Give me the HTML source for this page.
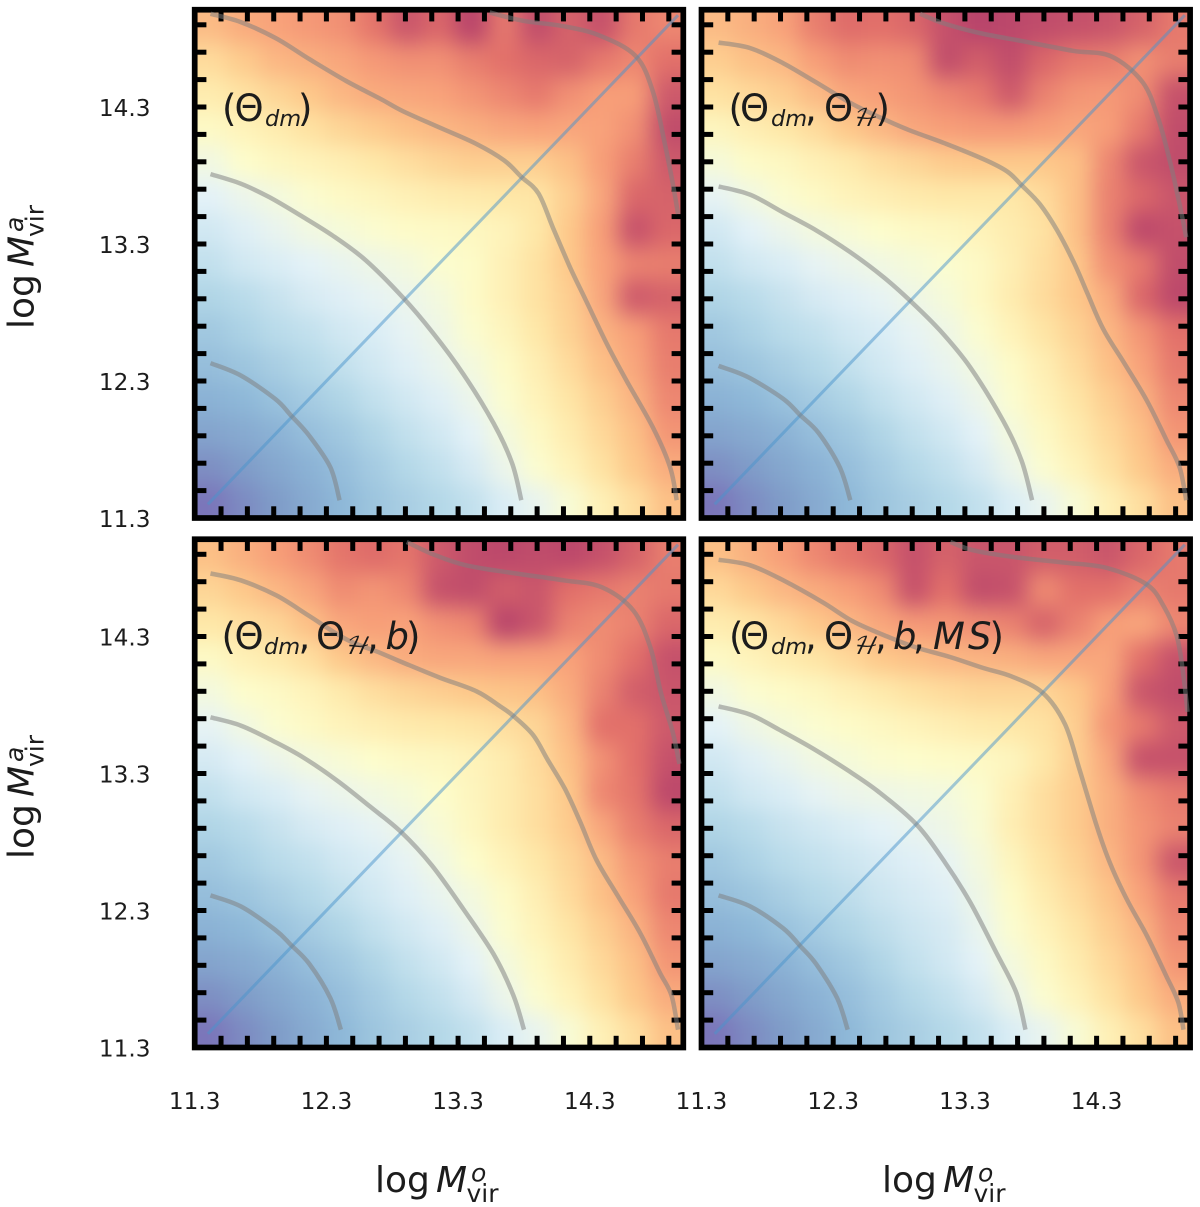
<!DOCTYPE html>
<html lang="en">
<head>
<meta charset="utf-8">
<title>Halo mass comparison panels</title>
<style>
html,body{margin:0;padding:0;background:#fff;width:1200px;height:1207px;overflow:hidden}
svg{display:block}
text{font-family:"DejaVu Sans","Liberation Sans",sans-serif;fill:#1c1c1c}
.tick{font-size:23.2px}
.ttl{font-size:36px}
.sm{font-size:25px}
.ann{font-size:37px}
.sub{font-size:22.5px}
.cal{font-size:24px;font-family:"DejaVu Math TeX Gyre","DejaVu Sans",sans-serif}
.it{font-style:italic}
</style>
</head>
<body>
<svg id="chart" xmlns="http://www.w3.org/2000/svg" width="1200" height="1207" viewBox="0 0 1200 1207">
  <defs>
    <filter id="soft" filterUnits="userSpaceOnUse" x="0" y="0" width="1200" height="1207" color-interpolation-filters="sRGB">
      <feGaussianBlur stdDeviation="11"/>
    </filter>
  </defs>
  <g id="panels"></g>

  <g>
    <text class="ttl" x="375" y="1192">log</text><text class="ttl it" x="436" y="1192">M</text><text class="sm it" x="471" y="1181.5">o</text><text class="sm" x="466.5" y="1202">vir</text>
  </g>
  <g>
    <text class="ttl" x="882" y="1192">log</text><text class="ttl it" x="943" y="1192">M</text><text class="sm it" x="978" y="1181.5">o</text><text class="sm" x="973.5" y="1202">vir</text>
  </g>
  <g transform="translate(33.5,329) rotate(-90)">
    <text class="ttl" x="0" y="0">log</text><text class="ttl it" x="62" y="0">M</text><text class="sm it" x="97" y="-10.5">a</text><text class="sm" x="92" y="10">vir</text>
  </g>
  <g transform="translate(33.5,859) rotate(-90)">
    <text class="ttl" x="0" y="0">log</text><text class="ttl it" x="62" y="0">M</text><text class="sm it" x="97" y="-10.5">a</text><text class="sm" x="92" y="10">vir</text>
  </g>

  <g>
    <text class="ann" x="222" y="121">(</text><text class="ann" x="234.5" y="121">Θ</text><text class="sub it" x="265" y="126">dm</text><text class="ann" x="298" y="121">)</text>
  </g>
  <g>
    <text class="ann" x="728.5" y="121">(</text><text class="ann" x="740" y="121">Θ</text><text class="sub it" x="771" y="126">dm</text><text class="ann" x="805" y="121">,</text><text class="ann" x="824" y="121">Θ</text><text class="cal it" x="852" y="126">ℋ</text><text class="ann" x="875.5" y="121">)</text>
  </g>
  <g>
    <text class="ann" x="221.5" y="649">(</text><text class="ann" x="234.5" y="649">Θ</text><text class="sub it" x="264" y="654">dm</text><text class="ann" x="298.5" y="649">,</text><text class="ann" x="316" y="649">Θ</text><text class="cal it" x="344" y="654">ℋ</text><text class="ann" x="367" y="649">,</text><text class="ann it" x="385.5" y="649">b</text><text class="ann" x="406" y="649">)</text>
  </g>
  <g>
    <text class="ann" x="729" y="649">(</text><text class="ann" x="740" y="649">Θ</text><text class="sub it" x="771" y="654">dm</text><text class="ann" x="805" y="649">,</text><text class="ann" x="824" y="649">Θ</text><text class="cal it" x="852" y="654">ℋ</text><text class="ann" x="875" y="649">,</text><text class="ann it" x="893" y="649">b</text><text class="ann" x="913" y="649">,</text><text class="ann it" x="933" y="649">M</text><text class="ann it" x="968" y="649">S</text><text class="ann" x="989.5" y="649">)</text>
  </g>
</svg>
<script>
// ---- shared axis data ----
const tickLabels = ['11.3', '12.3', '13.3', '14.3'];
const minorTicks = [11.5, 11.7, 11.9, 12.1, 12.3, 12.5, 12.7, 12.9, 13.1, 13.3, 13.5, 13.7, 13.9, 14.1, 14.3, 14.5, 14.7, 14.9];
const diagonalValues = [11.4, 14.97];

// ---- heatmap values: rows run top to bottom, columns left to right ----
const heatDm = [
[.73,.77,.79,.81,.83,.89,.96,.92,1.0,.88,.98,.93,.97,.88,.85],
[.64,.69,.74,.76,.78,.81,.83,.83,.87,.90,.92,.93,.88,.85,.90],
[.58,.62,.66,.70,.74,.77,.78,.79,.82,.85,.88,.83,.80,.80,.95],
[.52,.55,.58,.62,.66,.69,.72,.74,.76,.78,.79,.78,.79,.83,.98],
[.45,.50,.53,.55,.57,.60,.63,.66,.68,.68,.68,.72,.80,.87,.95],
[.40,.43,.46,.49,.52,.54,.56,.58,.59,.60,.61,.68,.78,.92,.93],
[.36,.39,.42,.45,.47,.49,.51,.52,.53,.55,.60,.70,.80,.97,.92],
[.33,.36,.38,.40,.42,.44,.46,.49,.51,.56,.62,.70,.79,.86,.87],
[.29,.31,.34,.37,.39,.41,.43,.46,.51,.56,.62,.68,.78,.95,.93],
[.25,.28,.31,.33,.36,.38,.41,.44,.49,.54,.60,.67,.75,.80,.88],
[.22,.24,.27,.30,.33,.36,.39,.42,.46,.51,.57,.64,.72,.78,.87],
[.18,.20,.23,.26,.29,.33,.36,.39,.43,.49,.55,.61,.68,.75,.85],
[.13,.15,.18,.22,.25,.29,.33,.36,.40,.46,.52,.58,.65,.72,.82],
[.07,.10,.14,.18,.22,.26,.30,.33,.37,.43,.49,.55,.62,.70,.77],
[.01,.06,.10,.15,.20,.24,.27,.30,.33,.38,.42,.48,.56,.63,.72]
];
const heatDmH = [
[.73,.76,.79,.87,.91,.90,.92,.97,1.0,.99,.98,.97,.96,.93,.88],
[.68,.72,.74,.80,.84,.83,.84,.98,.94,.98,.92,.88,.87,.83,.87],
[.62,.65,.68,.73,.78,.80,.82,.85,.88,.95,.86,.82,.81,.84,.97],
[.54,.57,.60,.64,.70,.74,.78,.80,.81,.81,.80,.78,.80,.88,.98],
[.47,.51,.53,.56,.59,.63,.66,.69,.70,.70,.70,.72,.85,.96,.98],
[.41,.45,.49,.52,.55,.57,.59,.60,.60,.60,.64,.72,.86,.92,.96],
[.36,.40,.43,.46,.48,.50,.52,.53,.55,.58,.62,.72,.86,.99,.97],
[.33,.36,.38,.41,.43,.45,.47,.49,.52,.57,.63,.70,.83,.88,.98],
[.29,.31,.34,.37,.39,.41,.44,.47,.52,.58,.64,.70,.77,.92,.99],
[.25,.28,.31,.33,.36,.38,.41,.44,.49,.55,.61,.67,.74,.82,.90],
[.22,.24,.27,.30,.33,.36,.39,.42,.46,.51,.57,.64,.72,.79,.88],
[.18,.20,.23,.26,.29,.33,.36,.39,.43,.49,.55,.61,.68,.75,.85],
[.13,.15,.18,.22,.25,.29,.33,.36,.40,.46,.52,.58,.65,.72,.82],
[.07,.10,.14,.18,.22,.26,.30,.33,.37,.43,.49,.55,.62,.70,.77],
[.01,.06,.10,.15,.20,.24,.27,.30,.33,.38,.42,.48,.56,.63,.72]
];
const heatDmHB = [
[.72,.76,.80,.84,.89,.91,.89,.95,.98,.99,.98,.99,.97,.93,.87],
[.66,.70,.74,.78,.84,.82,.85,.97,.98,.94,.96,.90,.88,.86,.88],
[.60,.63,.66,.72,.78,.80,.79,.83,.85,1.0,.96,.86,.84,.86,.92],
[.52,.56,.59,.63,.70,.74,.77,.78,.78,.79,.79,.79,.84,.90,.97],
[.46,.50,.52,.55,.59,.63,.66,.68,.70,.71,.72,.77,.86,.94,.96],
[.41,.45,.49,.52,.55,.57,.59,.60,.61,.63,.66,.74,.90,.90,.95],
[.37,.40,.43,.46,.48,.50,.52,.53,.55,.58,.64,.72,.83,.90,.97],
[.33,.36,.38,.41,.43,.45,.47,.50,.54,.58,.63,.70,.85,.89,.99],
[.29,.31,.34,.37,.39,.41,.44,.48,.53,.58,.63,.69,.78,.87,.92],
[.25,.28,.31,.33,.36,.38,.41,.45,.50,.55,.60,.66,.73,.82,.87],
[.22,.24,.27,.30,.33,.36,.39,.42,.46,.51,.57,.64,.72,.79,.88],
[.18,.20,.23,.26,.29,.33,.36,.39,.43,.49,.55,.61,.68,.75,.85],
[.13,.15,.18,.22,.25,.29,.33,.36,.40,.46,.52,.58,.65,.72,.82],
[.07,.10,.14,.18,.22,.26,.30,.33,.37,.43,.49,.55,.62,.70,.77],
[.01,.06,.10,.15,.20,.24,.27,.30,.33,.38,.42,.48,.56,.63,.72]
];
const heatDmHBMs = [
[.72,.76,.80,.85,.89,.92,.97,.93,.96,.96,.94,.94,.96,.92,.88],
[.65,.70,.74,.77,.80,.84,.97,.90,.98,.97,.84,.90,.90,.86,.88],
[.58,.61,.65,.70,.74,.78,.81,.82,.84,.86,.93,.86,.80,.78,.85],
[.52,.55,.58,.61,.65,.70,.72,.74,.75,.76,.78,.78,.78,.90,.97],
[.45,.49,.51,.53,.56,.59,.62,.64,.66,.66,.66,.70,.79,.96,.98],
[.40,.44,.47,.49,.51,.53,.55,.57,.59,.60,.62,.68,.82,.88,.95],
[.36,.39,.42,.45,.47,.49,.50,.51,.52,.54,.60,.68,.78,.97,.97],
[.33,.36,.38,.41,.43,.44,.45,.46,.49,.56,.63,.69,.76,.84,.88],
[.29,.31,.34,.36,.38,.40,.42,.44,.48,.57,.63,.69,.76,.82,.86],
[.25,.28,.31,.33,.35,.37,.39,.41,.46,.54,.61,.67,.74,.82,.96],
[.22,.24,.27,.30,.32,.35,.37,.39,.44,.51,.58,.64,.71,.79,.88],
[.18,.20,.23,.26,.29,.32,.35,.37,.42,.49,.55,.61,.68,.75,.85],
[.13,.15,.18,.22,.25,.29,.33,.36,.40,.46,.52,.58,.65,.72,.82],
[.07,.10,.14,.18,.22,.26,.30,.33,.37,.43,.49,.55,.62,.70,.77],
[.01,.06,.10,.15,.20,.24,.27,.30,.33,.38,.42,.48,.56,.63,.72]
];

// ---- contour values, panel 1 ----
const p1AX = [11.42,11.65,11.91,12.03,12.17,12.33,12.40];
const p1AY = [12.43,12.34,12.17,12.05,11.90,11.67,11.43];
const p1BX = [11.42,11.65,11.87,12.10,12.35,12.60,12.88,13.11,13.34,13.57,13.71,13.78];
const p1BY = [13.81,13.74,13.64,13.51,13.36,13.18,12.91,12.65,12.35,11.99,11.70,11.43];
const p1CX = [11.42,11.65,11.92,12.17,12.45,12.71,12.88,13.16,13.44,13.65,13.78,13.91,14.02,14.15,14.27,14.43,14.58,14.78,14.91,14.96];
const p1CY = [14.98,14.92,14.80,14.65,14.49,14.36,14.27,14.15,14.03,13.91,13.79,13.67,13.42,13.13,12.89,12.57,12.30,11.96,11.67,11.43];
const p1DX = [13.54,13.79,14.10,14.38,14.65,14.78,14.87,14.93,14.97];
const p1DY = [14.99,14.93,14.89,14.82,14.67,14.41,14.03,13.74,13.52];
// ---- contour values, panel 2 ----
const p2AX = [11.43,11.65,11.92,12.05,12.19,12.35,12.43];
const p2AY = [12.41,12.33,12.17,12.05,11.92,11.67,11.43];
const p2BX = [11.43,11.67,11.92,12.17,12.43,12.68,12.88,13.11,13.34,13.59,13.73,13.81];
const p2BY = [13.72,13.66,13.53,13.40,13.24,13.06,12.89,12.67,12.40,12.01,11.72,11.43];
const p2CX = [11.43,11.67,11.92,12.17,12.45,12.71,12.88,13.16,13.44,13.62,13.73,13.87,14.00,14.13,14.23,14.35,14.51,14.68,14.83,14.93,14.98];
const p2CY = [14.77,14.73,14.62,14.48,14.32,14.20,14.13,14.03,13.92,13.83,13.73,13.59,13.40,13.16,12.94,12.68,12.43,12.16,11.87,11.67,11.43];
const p2DX = [12.96,13.14,13.41,13.74,14.12,14.41,14.65,14.77,14.86,14.93,14.98];
const p2DY = [14.98,14.91,14.84,14.78,14.71,14.67,14.48,14.21,13.89,13.59,13.35];
// ---- contour values, panel 3 ----
const p3AX = [11.42,11.65,11.91,12.03,12.17,12.33,12.41];
const p3AY = [12.41,12.33,12.16,12.05,11.91,11.66,11.43];
const p3BX = [11.42,11.65,11.89,12.12,12.38,12.63,12.87,13.10,13.34,13.57,13.72,13.80];
const p3BY = [13.71,13.65,13.54,13.42,13.25,13.06,12.87,12.63,12.31,11.98,11.68,11.43];
const p3CX = [11.42,11.65,11.92,12.17,12.45,12.71,12.88,13.16,13.44,13.62,13.72,13.87,13.98,14.11,14.23,14.35,14.51,14.68,14.83,14.92,14.97];
const p3CY = [14.76,14.71,14.60,14.45,14.28,14.18,14.11,14.00,13.90,13.79,13.72,13.58,13.40,13.19,12.94,12.67,12.41,12.14,11.85,11.68,11.43];
const p3DX = [12.91,13.11,13.36,13.74,14.10,14.39,14.63,14.76,14.84,14.93,14.98];
const p3DY = [14.99,14.90,14.82,14.76,14.71,14.66,14.49,14.22,13.89,13.60,13.37];
// ---- contour values, panel 4 ----
const p4AX = [11.43,11.67,11.92,12.05,12.17,12.33,12.41];
const p4AY = [12.41,12.33,12.17,12.04,11.91,11.66,11.43];
const p4BX = [11.43,11.67,11.89,12.15,12.40,12.64,12.93,13.15,13.34,13.54,13.69,13.76];
const p4BY = [13.79,13.73,13.62,13.48,13.33,13.17,12.93,12.65,12.36,11.99,11.70,11.43];
const p4CX = [11.43,11.67,11.92,12.22,12.45,12.71,12.93,13.19,13.44,13.65,13.89,14.06,14.17,14.30,14.40,14.53,14.68,14.83,14.92,14.96];
const p4CY = [14.86,14.82,14.71,14.55,14.41,14.30,14.22,14.15,14.07,14.01,13.89,13.66,13.33,12.92,12.65,12.38,12.12,11.82,11.63,11.43];
const p4DX = [13.19,13.36,13.67,14.05,14.38,14.68,14.81,14.91,14.96,14.99];
const p4DY = [14.99,14.93,14.88,14.84,14.80,14.68,14.52,14.30,14.01,13.75];

// ---- colour ramp ----
const rampColors = ['#7a72b8','#7f9cc8','#8eb8d8','#b4d8e8','#e4f2f8','#fdfdcc','#fee8a8','#fdc88a','#f79e78','#e2706a','#b8446b'];
function hex(c){return [parseInt(c.slice(1,3),16),parseInt(c.slice(3,5),16),parseInt(c.slice(5,7),16)];}
function colorOf(v){
  const t=Math.max(0,Math.min(1,v))*(rampColors.length-1);
  const i=Math.min(rampColors.length-2,Math.floor(t)), f=t-i;
  const a=hex(rampColors[i]), b=hex(rampColors[i+1]);
  return 'rgb('+[0,1,2].map(k=>Math.round(a[k]+(b[k]-a[k])*f)).join(',')+')';
}

const NS='http://www.w3.org/2000/svg';
const root=document.getElementById('panels');
function mk(tag,parent,attrs){
  const el=document.createElementNS(NS,tag);
  for(const k in attrs) el.setAttribute(k,attrs[k]);
  parent.appendChild(el);
  return el;
}
function smoothPath(pts){
  let d='M'+pts[0][0].toFixed(1)+' '+pts[0][1].toFixed(1);
  for(let i=0;i<pts.length-1;i++){
    const p0=pts[Math.max(0,i-1)],p1=pts[i],p2=pts[i+1],p3=pts[Math.min(pts.length-1,i+2)];
    const c1x=p1[0]+(p2[0]-p0[0])/6,c1y=p1[1]+(p2[1]-p0[1])/6;
    const c2x=p2[0]-(p3[0]-p1[0])/6,c2y=p2[1]-(p3[1]-p1[1])/6;
    d+=' C'+c1x.toFixed(1)+' '+c1y.toFixed(1)+' '+c2x.toFixed(1)+' '+c2y.toFixed(1)+' '+p2[0].toFixed(1)+' '+p2[1].toFixed(1);
  }
  return d;
}

const PX_PER_X=131.7, PX_PER_Y=137;
const DOMAIN_MIN=11.3, DOMAIN_MAX=15.01;

function drawPanel(n,x0,y0,heat,curves,showY,showX){
  const sx=v=>x0+(v-DOMAIN_MIN)*PX_PER_X;
  const sy=v=>y0-(v-DOMAIN_MIN)*PX_PER_Y;
  const L=sx(DOMAIN_MIN),R=sx(DOMAIN_MAX),B=sy(DOMAIN_MIN),T=sy(DOMAIN_MAX);

  const g=mk('g',root,{});
  
  

  const clip=mk('clipPath',g,{id:'clip'+n});
  
  
  mk('rect',clip,{x:L,y:T,width:R-L,height:B-T});

  const clipG=mk('g',g,{'clip-path':'url(#clip'+n+')'});
  
  
  const hm=mk('g',clipG,{filter:'url(#soft)'});
  
  

  const rows=heat.length, cols=heat[0].length;
  const dx=(DOMAIN_MAX-DOMAIN_MIN)/cols, dy=(DOMAIN_MAX-DOMAIN_MIN)/rows;
  for(let r=0;r<rows;r++){
    for(let c=0;c<cols;c++){
      let x=sx(DOMAIN_MIN+c*dx), w=sx(DOMAIN_MIN+(c+1)*dx)-x+0.6;
      let y=sy(DOMAIN_MAX-r*dy), h=sy(DOMAIN_MAX-(r+1)*dy)-y+0.6;
      if(c===0){x-=45;w+=45;}
      if(c===cols-1){w+=45;}
      if(r===0){y-=45;h+=45;}
      if(r===rows-1){h+=45;}
      const cell=mk('rect',hm,{x:x,y:y,width:w,height:h,fill:colorOf(heat[r][c])});
      
      
    }
  }

  const ticks=mk('g',g,{fill:'#000'});
  
  
  const LEN=11.7, W=5;
  minorTicks.forEach(v=>{
    const list=[
      {x:sx(v)-W/2,y:B-LEN,width:W,height:LEN},
      {x:sx(v)-W/2,y:T,width:W,height:LEN},
      {x:L,y:sy(v)-W/2,width:LEN,height:W},
      {x:R-LEN,y:sy(v)-W/2,width:LEN,height:W}
    ];
    list.forEach(a=>{
      const t=mk('rect',ticks,a);
      
      
    });
  });

  const frame=mk('rect',g,{x:L,y:T,width:R-L,height:B-T,fill:'none',stroke:'#000','stroke-width':5.7});
  
  

  const diag=mk('line',g,{x1:sx(diagonalValues[0]),y1:sy(diagonalValues[0]),x2:sx(diagonalValues[1]),y2:sy(diagonalValues[1]),stroke:'#4a94cc','stroke-opacity':.5,'stroke-width':3});
  
  

  curves.forEach(cv=>{
    const pts=cv[0].map((v,i)=>[sx(v),sy(cv[1][i])]);
    const p=mk('path',g,{d:smoothPath(pts),fill:'none',stroke:'#7f7f7f','stroke-opacity':.52,'stroke-width':4.5,'stroke-linejoin':'round'});
    
    
  });

  if(showY){
    tickLabels.forEach(l=>{
      const t=mk('text',g,{class:'tick',x:150.5,y:sy(parseFloat(l))+9,'text-anchor':'end'});
      
      
      t.textContent=l;
    });
  }
  if(showX){
    tickLabels.forEach(l=>{
      const t=mk('text',g,{class:'tick',x:sx(parseFloat(l)),y:1109,'text-anchor':'middle'});
      
      
      t.textContent=l;
    });
  }
}

drawPanel(1,194.7,518,heatDm,[[p1AX,p1AY],[p1BX,p1BY],[p1CX,p1CY],[p1DX,p1DY]],true,false);
drawPanel(2,701.5,518,heatDmH,[[p2AX,p2AY],[p2BX,p2BY],[p2CX,p2CY],[p2DX,p2DY]],false,false);
drawPanel(3,194.7,1047.5,heatDmHB,[[p3AX,p3AY],[p3BX,p3BY],[p3CX,p3CY],[p3DX,p3DY]],true,true);
drawPanel(4,701.5,1047.5,heatDmHBMs,[[p4AX,p4AY],[p4BX,p4BY],[p4CX,p4CY],[p4DX,p4DY]],false,true);
</script>
</body>
</html>
